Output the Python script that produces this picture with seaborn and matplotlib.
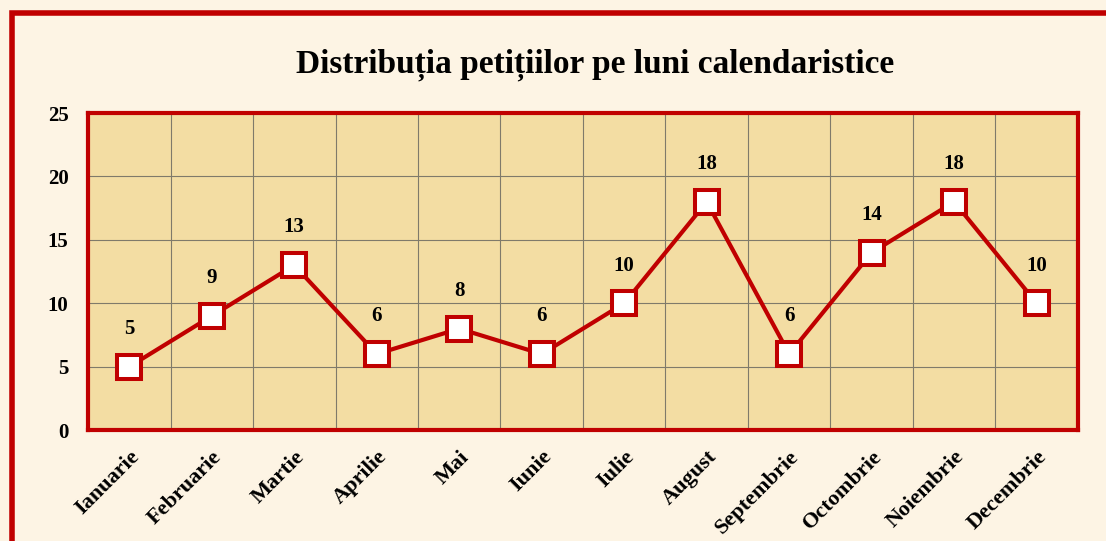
import matplotlib
matplotlib.use("Agg")
import matplotlib.pyplot as plt
from matplotlib.patches import Rectangle
import seaborn as sns
import pandas as pd
import numpy as np

luni = ['Ianuarie', 'Februarie', 'Martie', 'Aprilie', 'Mai', 'Iunie', 'Iulie',
        'August', 'Septembrie', 'Octombrie', 'Noiembrie', 'Decembrie']
petitii = [5, 9, 13, 6, 8, 6, 10, 18, 6, 14, 18, 10]
titlu = 'Distribuția petițiilor pe luni calendaristice'

RED = '#C00000'
sns.set_style('white')
plt.rcParams['font.family'] = ['Liberation Serif', 'DejaVu Serif']
plt.rcParams['text.color'] = 'black'

df = pd.DataFrame({'luna': luni, 'nr': petitii})

fig = plt.figure(figsize=(11.06, 5.41), dpi=100)
fig.patch.set_facecolor('#FDF4E4')
# outer red frame
fig.patches.append(Rectangle((0.011, -0.1), 1.2, 1.076, transform=fig.transFigure,
                             fill=False, edgecolor=RED, linewidth=4, zorder=0))

ax = fig.add_axes([0.0796, 0.205, 0.895, 0.586])
ax.set_facecolor('#F3DDA3')

sns.lineplot(data=df, x='luna', y='nr', sort=False, ax=ax, color=RED, linewidth=3,
             marker='s', markersize=17, markerfacecolor='white', markeredgecolor=RED,
             markeredgewidth=2.9, zorder=5)

for i, v in enumerate(petitii):
    ax.annotate(str(v), (i, v), xytext=(0, 20), textcoords='offset points',
                ha='center', va='bottom', fontsize=15, fontweight='bold', color='black')

ax.set_xlim(-0.5, len(luni) - 0.5)
ax.set_ylim(0, 25)
ax.set_yticks([0, 5, 10, 15, 20, 25])
ax.set_xticks(range(len(luni)))
ax.set_xticks(np.arange(0.5, len(luni) - 1, 1), minor=True)
ax.set_xticklabels(luni, rotation=45, ha='right', rotation_mode='anchor',
                   fontsize=16, fontweight='bold')
for lbl in ax.get_yticklabels():
    lbl.set_fontweight('bold')
    lbl.set_fontsize(15)
ax.tick_params(axis='both', length=0, colors='black')
ax.tick_params(axis='y', pad=14)
ax.tick_params(axis='x', pad=12)
ax.grid(axis='y', which='major', color='#7f7a6a', linewidth=0.8)
ax.grid(axis='x', which='minor', color='#7f7a6a', linewidth=0.8)
ax.set_axisbelow(True)
ax.set_xlabel('')
ax.set_ylabel('')
for s in ax.spines.values():
    s.set_visible(True)
    s.set_color(RED)
    s.set_linewidth(3)

fig.text(0.538, 0.88, titlu, ha='center', va='center', fontsize=24,
         fontweight='bold', color='black')

fig.savefig('out.png', dpi=100, facecolor=fig.get_facecolor())
